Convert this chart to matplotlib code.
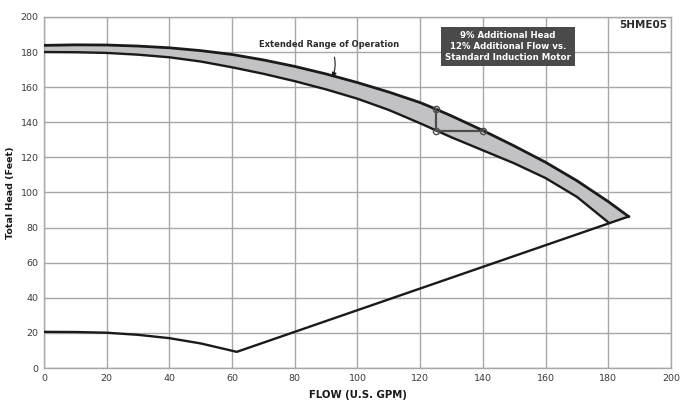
import numpy as np
import matplotlib.pyplot as plt

# pump curves (flow in GPM, head in feet)
flow_ext = [0, 10, 20, 30, 40, 50, 60, 70, 80, 90, 100, 110, 120, 125, 130, 140, 150, 160, 170, 180, 186.5]
head_ext = [183.8, 184.1, 184, 183.4, 182.4, 180.8, 178.6, 175.5, 171.8, 167.5, 162.6, 157.2, 151.2, 147.5, 143.6, 135.3, 126.5, 117.2, 106.7, 94.8, 86.3]

flow_std = [0, 10, 20, 30, 40, 50, 60, 70, 80, 90, 100, 110, 120, 125, 130, 140, 150, 160, 170, 180]
head_std = [180, 179.9, 179.5, 178.5, 177, 174.6, 171.3, 167.6, 163.4, 158.7, 153.4, 147.0, 139.4, 135.4, 131.4, 124.0, 116.6, 108.2, 97.5, 83]

flow_sys = [0, 10, 20, 30, 40, 50, 61.5, 186.5]
head_sys = [20.6, 20.5, 20.1, 18.9, 17, 14, 9.2, 86.3]

marker_flow = [125, 125, 140]
marker_head = [147.5, 135.3, 135.3]

x_ticks = list(range(0, 201, 20))
y_ticks = list(range(0, 201, 20))

fig = plt.figure(figsize=(6.8, 4.04), dpi=100)
ax = fig.add_axes([0.0647, 0.0891, 0.922, 0.869])

# shaded band between the two pump curves
xx = np.linspace(0, 186.5, 400)
upper = np.interp(xx, flow_ext, head_ext)
lower_std = np.interp(xx, flow_std + [186.5], head_std + [86.3])
ax.fill_between(xx, lower_std, upper, color="#c2c2c4", lw=0, zorder=2)

ax.plot(flow_ext, head_ext, color="#1a1a1a", lw=2.0, zorder=4, solid_joinstyle="round")
ax.plot(flow_std, head_std, color="#1a1a1a", lw=1.7, zorder=4, solid_joinstyle="round")
ax.plot(flow_sys, head_sys, color="#1a1a1a", lw=1.7, zorder=4, solid_joinstyle="round")

# head / flow gain indicator
ax.plot(marker_flow, marker_head, color="#4d4d4d", lw=1.6, zorder=5)
ax.plot(marker_flow, marker_head, "o", ms=4.5, mfc="none", mec="#4d4d4d", mew=1.0, zorder=6)

ax.annotate("Extended Range of Operation", xy=(92, 165.5), xytext=(91, 184.3),
            ha="center", va="center", fontsize=6.0, fontweight="bold", color="#2b2b2b",
            arrowprops=dict(arrowstyle="-|>", color="#1a1a1a", lw=0.8,
                            mutation_scale=7, shrinkA=4, shrinkB=0,
                            connectionstyle="arc3,rad=-0.25"),
            zorder=7)

ax.text(148, 183.3, "9% Additional Head\n12% Additional Flow vs.\nStandard Induction Motor",
        ha="center", va="center", fontsize=6.2, fontweight="bold", color="white",
        linespacing=1.3, zorder=7,
        bbox=dict(boxstyle="square,pad=0.45", fc="#4a4a4a", ec="none"))

ax.text(198.8, 195.5, "5HME05", ha="right", va="center", fontsize=7.5,
        fontweight="bold", color="#2b2b2b", zorder=7)

ax.set_xlim(0, 200)
ax.set_ylim(0, 200)
ax.set_xticks(x_ticks)
ax.set_yticks(y_ticks)
ax.tick_params(length=0, labelsize=6.8, colors="#3a3a3a", pad=4)
ax.grid(True, color="#a8a8a8", lw=1.0, zorder=1)
ax.set_axisbelow(True)
for s in ax.spines.values():
    s.set_color("#a8a8a8")
    s.set_linewidth(1.0)

ax.set_xlabel("FLOW (U.S. GPM)", fontsize=7.3, fontweight="bold", color="#1a1a1a", labelpad=5)
ax.set_ylabel("Total Head (Feet)", fontsize=6.8, fontweight="bold", color="#1a1a1a")
ax.yaxis.set_label_coords(-0.046, 0.5)

fig.savefig("out.png", dpi=100)
